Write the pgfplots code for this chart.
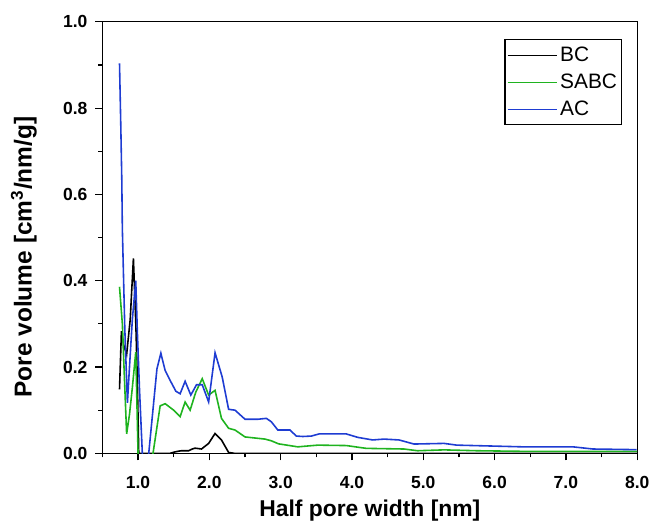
\documentclass[border=0pt]{standalone}
\usepackage{pgfplots}
\pgfplotsset{compat=1.18}
\usepackage{fontspec}
\setmainfont{Liberation Sans}
\definecolor{bcblack}{HTML}{000000}
\definecolor{sabcgreen}{HTML}{1FB31F}
\definecolor{acblue}{HTML}{1E3CD2}

\begin{document}
\begin{tikzpicture}
\begin{axis}[
    name=ax,
    scale only axis,
    width=269pt,
    height=217pt,
    xmin=0.5, xmax=8,
    ymin=0, ymax=1,
    xtick={1,2,...,8},
    ytick={0,0.2,...,1.0},
    minor xtick={0.5,1.5,...,7.5},
    minor y tick num=1,
    xtick pos=lower,
    ytick pos=left,
    tick align=outside,
    major tick length=3.5pt,
    minor tick length=2pt,
    every tick/.style={black, line width=0.6pt},
    axis line style={line width=0.6pt},
    /pgf/number format/.cd, fixed, fixed zerofill, precision=1, assume math mode=true,
    /pgfplots/.cd,
    ticklabel style={font=\fontsize{8.8}{10}\selectfont\bfseries},
    yticklabel style={xshift=-0.5pt},
    xticklabel style={yshift=-4.5pt},
    xlabel={Half pore width [nm]},
    ylabel={Pore volume [cm\textsuperscript{3}/nm/g]},
    xlabel style={font=\fontsize{11.5}{13}\selectfont\bfseries,
        at={(axis description cs:0.5,-0.1475)}, anchor=base},
    ylabel style={font=\fontsize{12.3}{14}\selectfont\bfseries,
        at={(axis description cs:-0.1325,0.455)}, anchor=base},
    clip=true,
    legend cell align=left,
    legend style={
        at={(0.9716,0.960)}, anchor=north east,
        draw=black, line width=0.6pt,
        font=\fontsize{10.5}{12}\selectfont,
        inner sep=1pt,
        row sep=0pt,
        nodes={inner sep=1.2pt, text height=8.7pt, text depth=2.5pt},
        /tikz/every even column/.append style={column sep=0pt},
    },
    legend image code/.code={\draw[#1, line width=0.6pt] (0pt,0pt) -- (25pt,0pt);},
]
\addplot[bcblack, line width=0.8pt] coordinates {
(0.74,0.148) (0.767,0.283) (0.80,0.25) (0.84,0.229) (0.89,0.31) (0.935,0.452)
(0.97,0.294) (0.99,0.168) (1.01,0.0) (1.10,0.0) (1.30,0.0) (1.45,0.0)
(1.51,0.003) (1.57,0.005) (1.61,0.006) (1.71,0.006) (1.76,0.010) (1.80,0.012)
(1.89,0.010) (1.99,0.023) (2.08,0.046) (2.17,0.031) (2.27,0.002) (2.35,0.0)
(3.0,0.0) (5.0,0.0) (8.0,0.0)
};
\addlegendentry{BC}
\addplot[sabcgreen, line width=0.8pt] coordinates {
(0.74,0.386) (0.78,0.30) (0.81,0.17) (0.84,0.045) (0.88,0.09) (0.92,0.152)
(0.968,0.235) (1.0,0.0) (1.05,-0.06) (1.15,-0.04) (1.21,0.0) (1.31,0.11)
(1.38,0.115) (1.50,0.10) (1.59,0.085) (1.66,0.119) (1.73,0.10) (1.81,0.142)
(1.90,0.173) (1.99,0.135) (2.08,0.146) (2.17,0.081) (2.27,0.058) (2.36,0.054)
(2.50,0.038) (2.78,0.033) (2.87,0.029) (2.97,0.022) (3.24,0.015) (3.52,0.019)
(3.92,0.018) (4.20,0.0115) (4.73,0.010) (4.92,0.006) (5.29,0.008) (5.75,0.006)
(6.40,0.0046) (8.0,0.0046)
};
\addlegendentry{SABC}
\addplot[acblue, line width=0.8pt] coordinates {
(0.74,0.904) (0.758,0.76) (0.772,0.635) (0.78,0.52) (0.814,0.29) (0.851,0.117)
(0.88,0.20) (0.92,0.31) (0.968,0.40) (0.99,0.283) (1.02,0.15) (1.06,0.0)
(1.10,-0.05) (1.15,0.0) (1.265,0.196) (1.32,0.232) (1.38,0.192) (1.45,0.169)
(1.53,0.144) (1.59,0.138) (1.66,0.167) (1.74,0.135) (1.82,0.159) (1.90,0.159)
(1.99,0.119) (2.08,0.233) (2.18,0.177) (2.27,0.102) (2.36,0.10) (2.50,0.079)
(2.68,0.079) (2.80,0.081) (2.87,0.073) (2.96,0.054) (3.13,0.054) (3.22,0.040)
(3.31,0.039) (3.43,0.040) (3.54,0.045) (3.92,0.045) (4.08,0.037) (4.29,0.031)
(4.45,0.033) (4.66,0.031) (4.87,0.0215) (5.29,0.023) (5.47,0.019) (6.40,0.015)
(7.10,0.015) (7.38,0.010) (7.99,0.0085)
};
\addlegendentry{AC}
\end{axis}
\path (ax.south west) ++(-51.5pt,-33.5pt) (ax.north east) ++(7.5pt,11pt);
\end{tikzpicture}
\end{document}
